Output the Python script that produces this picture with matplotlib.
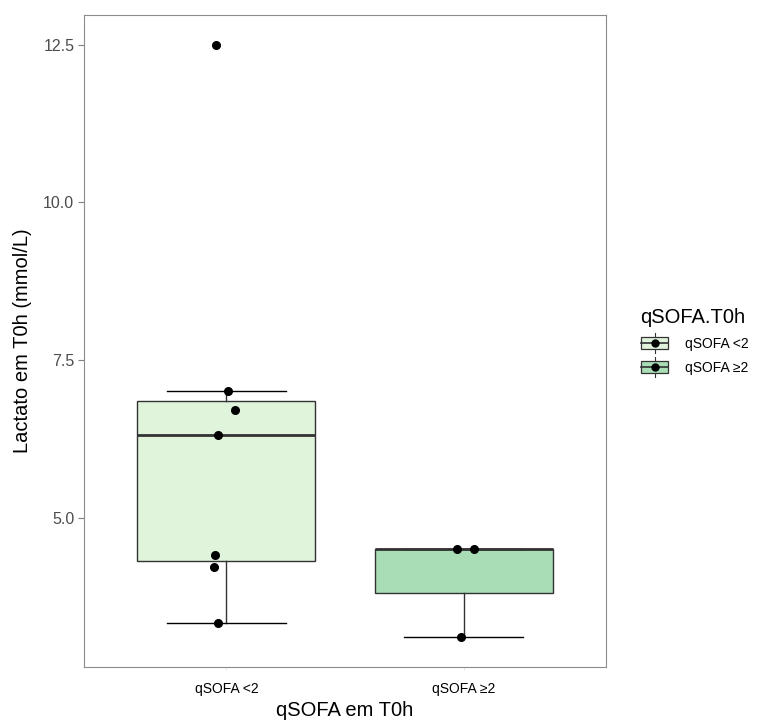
import matplotlib
matplotlib.use('Agg')
import matplotlib.pyplot as plt
from matplotlib.patches import Rectangle, Patch
from matplotlib.lines import Line2D
from matplotlib.legend_handler import HandlerBase

plt.rcParams['font.family'] = ['Liberation Sans', 'DejaVu Sans']

# data
groups = ['qSOFA <2', 'qSOFA ≥2']
lactate_lt2 = [12.5, 7.0, 6.71, 6.31, 4.41, 4.21, 3.32]
jitter_lt2 = [-0.045, 0.008, 0.038, -0.034, -0.046, -0.051, -0.034]
lactate_ge2 = [4.5, 4.5, 3.1]
jitter_ge2 = [-0.028, 0.044, -0.010]
fills = ['#E0F3DB', '#A8DDB5']
yticks = [5.0, 7.5, 10.0, 12.5]

edge = '#333333'


class BoxKey(HandlerBase):
    def create_artists(self, legend, orig_handle, xdescent, ydescent,
                       width, height, fontsize, trans):
        cx = width / 2 - xdescent
        cy = height / 2 - ydescent
        bw, bh = width * 0.95, height * 0.95
        whisk = Line2D([cx, cx], [cy - height * 0.8, cy + height * 0.8],
                       color=edge, lw=0.8, transform=trans)
        box = Rectangle((cx - bw / 2, cy - bh / 2), bw, bh,
                        facecolor=orig_handle.get_facecolor(),
                        edgecolor=edge, lw=0.9, transform=trans)
        med = Line2D([cx - bw / 2, cx + bw / 2], [cy, cy], color=edge,
                     lw=1.2, transform=trans)
        dot = Line2D([cx], [cy], marker='o', color='black', ms=5,
                     transform=trans)
        return [whisk, box, med, dot]


fig = plt.figure(figsize=(7.66, 7.22), dpi=100)
ax = fig.add_axes([0.1097, 0.0762, 0.6814, 0.903])

ax.boxplot([lactate_lt2, lactate_ge2], positions=[1, 2], widths=0.75,
           capwidths=0.5, showfliers=False, patch_artist=True, whis=1.5,
           boxprops=dict(edgecolor=edge, linewidth=1.0),
           medianprops=dict(color=edge, linewidth=2.0),
           whiskerprops=dict(color=edge, linewidth=1.0),
           capprops=dict(color='black', linewidth=1.0))
for patch, col in zip(ax.patches, fills):
    patch.set_facecolor(col)

for pos, vals, jit in [(1, lactate_lt2, jitter_lt2), (2, lactate_ge2, jitter_ge2)]:
    ax.plot([pos + j for j in jit], vals, 'o', color='black', ms=5.5,
            zorder=5, linestyle='none')

ax.set_xlim(0.4, 2.6)
ax.set_ylim(2.63, 12.97)
ax.set_xticks([1, 2])
ax.set_xticklabels(groups, fontsize=10, color='black')
ax.set_yticks(yticks)
ax.set_yticklabels([f'{v:.1f}' for v in yticks], fontsize=11.5, color='#4D4D4D')
ax.tick_params(axis='y', length=4, color='#7F7F7F', width=0.8, pad=3)
ax.tick_params(axis='x', length=2, color='#E0E0E0', width=0.5, pad=9)
for sp in ax.spines.values():
    sp.set_color('#8C8C8C')
    sp.set_linewidth(0.8)

ax.set_xlabel('qSOFA em T0h', fontsize=14.5, labelpad=3.5)
ax.set_ylabel('Lactato em T0h (mmol/L)', fontsize=14.5, labelpad=8)

handles = [Patch(facecolor=c) for c in fills]
leg = fig.legend(handles, groups, title='qSOFA.T0h', loc='center left',
                 bbox_to_anchor=(0.82, 0.527), frameon=False,
                 handler_map={Patch: BoxKey()}, fontsize=10,
                 title_fontsize=14.5, handlelength=2.0, handleheight=1.0,
                 handletextpad=1.2, labelspacing=0.7)
leg._legend_box.align = 'left'

fig.savefig('out.png', dpi=100)
